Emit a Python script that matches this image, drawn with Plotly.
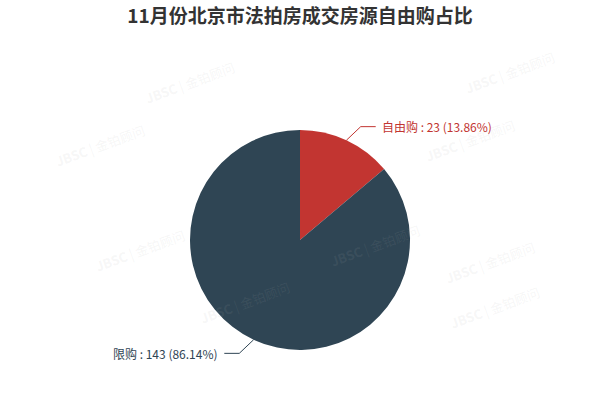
import math
import plotly.graph_objects as go

title = "11月份北京市法拍房成交房源自由购占比"
labels = ["自由购", "限购"]
values = [23, 143]
colors = ["#c23531", "#2f4554"]

W, H = 600, 400
cx, cy, r = 300, 240, 110  # pixel center / radius

fig = go.Figure()
fig.add_trace(go.Pie(
    labels=labels, values=values, sort=False, direction="clockwise", rotation=0,
    marker=dict(colors=colors, line=dict(width=0)),
    textinfo="none", hoverinfo="label+value+percent", showlegend=False,
    domain=dict(x=[(cx - r) / W, (cx + r) / W], y=[(H - cy - r) / H, (H - cy + r) / H]),
))

total = sum(values)
shapes, annotations = [], []
cum = 0
for lab, val, col in zip(labels, values, colors):
    frac = val / total
    mid = (cum + frac / 2) * 2 * math.pi
    cum += frac
    sx, sy = math.sin(mid), -math.cos(mid)
    side = 1 if sx >= 0 else -1
    x0, y0 = cx + r * sx, cy + r * sy
    x1, y1 = cx + (r + 15) * sx + side * 8, cy + (r + 15) * sy
    x2 = x1 + side * 15
    path = f"M {x0/W} {1-y0/H} L {x1/W} {1-y1/H} L {x2/W} {1-y1/H}"
    shapes.append(dict(type="path", xref="paper", yref="paper", path=path,
                       line=dict(color=col, width=1)))
    pct = f"{frac*100:.2f}%"
    annotations.append(dict(
        x=(x2 + side * 4) / W, y=1 - y1 / H, xref="paper", yref="paper",
        text=f"{lab} : {val} ({pct})", showarrow=False,
        xanchor="left" if side > 0 else "right", yanchor="middle",
        font=dict(size=12, color=col, family="Noto Sans CJK SC, sans-serif"),
    ))

# faint watermarks
wm_pos = [(140, 55), (560, 45), (50, 145), (520, 140), (90, 250), (375, 245), (540, 262), (245, 330), (545, 335)]
for (x, y) in wm_pos:
    annotations.append(dict(x=x / W, y=1 - y / H, xref="paper", yref="paper",
                            text="<b>JBSC</b> | 金铂顾问", showarrow=False, textangle=-20,
                            font=dict(size=13, color="rgba(170,170,170,0.11)",
                                      family="Noto Sans CJK SC, sans-serif")))

fig.update_layout(
    width=W, height=H, margin=dict(l=0, r=0, t=0, b=0),
    paper_bgcolor="white", plot_bgcolor="white",
    title=dict(text=f"<b>{title}</b>", x=0.5, xanchor="center", y=1 - 16 / H, yanchor="middle",
               font=dict(size=19, color="#333333", family="Noto Sans CJK SC, sans-serif")),
    shapes=shapes, annotations=annotations,
)
fig.write_html("out.html", config={"displayModeBar": False},
               post_script="document.body.style.margin='0px';")
